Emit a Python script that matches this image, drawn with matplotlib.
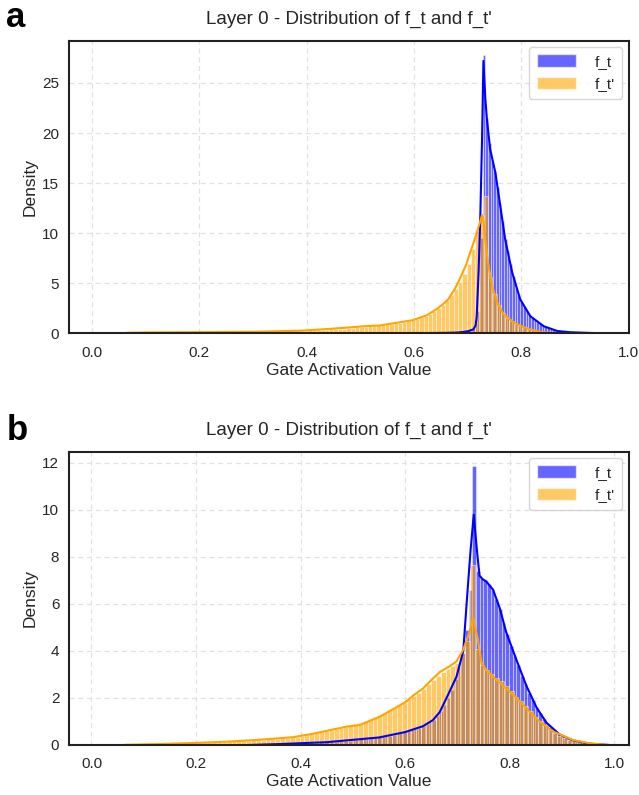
import numpy as np
import matplotlib
matplotlib.use("Agg")
import matplotlib.pyplot as plt
from matplotlib.patches import Patch

plt.rcParams['font.family'] = ['Liberation Sans', 'DejaVu Sans']

title = "Layer 0 - Distribution of f_t and f_t'"
xlabel = "Gate Activation Value"
ylabel = "Density"
labels = ["f_t", "f_t'"]

# ---- panel a : histogram bins (start, width) and bar heights ----
a_ft_bins = (0.448, 0.005)
a_ft_hist = [
    0.01, 0.01, 0.01, 0.01, 0.01, 0.01, 0.01, 0.01, 0.01, 0.01,
    0.01, 0.01, 0.01, 0.01, 0.01, 0.01, 0.01, 0.01, 0.02, 0.02,
    0.02, 0.02, 0.02, 0.02, 0.02, 0.02, 0.02, 0.02, 0.03, 0.03,
    0.03, 0.03, 0.03, 0.03, 0.03, 0.03, 0.03, 0.04, 0.04, 0.04,
    0.04, 0.05, 0.06, 0.07, 0.08, 0.10, 0.12, 0.14, 0.17, 0.21,
    0.27, 0.36, 0.52, 0.90, 2.2, 9.5, 27.83, 21.5, 19.0, 17.2,
    16.2, 14.6, 12.9, 11.2, 9.4, 8.2, 6.9, 5.7, 4.6, 3.8,
    3.1, 2.6, 2.2, 1.8, 1.55, 1.3, 1.1, 0.9, 0.75, 0.62,
    0.5, 0.4, 0.32, 0.25, 0.2, 0.16, 0.13, 0.11, 0.09, 0.07,
    0.06, 0.05, 0.04, 0.03, 0.03, 0.02, 0.02, 0.01, 0.01, 0.01,
]
a_ftp_bins = (0.066, 0.008)
a_ftp_hist = [
    0.05, 0.08, 0.08, 0.09, 0.09, 0.09, 0.10, 0.10, 0.10, 0.10,
    0.10, 0.10, 0.10, 0.11, 0.11, 0.11, 0.11, 0.11, 0.12, 0.12,
    0.12, 0.12, 0.12, 0.13, 0.13, 0.13, 0.14, 0.14, 0.15, 0.15,
    0.16, 0.16, 0.17, 0.18, 0.18, 0.19, 0.20, 0.21, 0.22, 0.23,
    0.25, 0.26, 0.28, 0.30, 0.32, 0.34, 0.36, 0.38, 0.41, 0.44,
    0.47, 0.50, 0.54, 0.58, 0.62, 0.66, 0.70, 0.74, 0.78, 0.82,
    0.88, 0.93, 0.99, 1.05, 1.12, 1.20, 1.30, 1.42, 1.58, 1.75,
    1.95, 2.20, 2.50, 2.85, 3.30, 3.80, 4.40, 5.10, 5.90, 6.90,
    8.40, 10.2, 11.8, 13.66, 5.6, 3.9, 2.8, 2.0, 1.5, 1.2,
    0.95, 0.75, 0.58, 0.45, 0.33, 0.22, 0.14, 0.08, 0.04, 0.02,
]
# kde curves
a_ft_kde_x = [0.45, 0.55, 0.62, 0.66, 0.68, 0.692, 0.702, 0.711, 0.715, 0.717,
              0.7205, 0.7236, 0.727, 0.7295, 0.733, 0.736, 0.742, 0.752, 0.761,
              0.770, 0.783, 0.798, 0.817, 0.842, 0.867, 0.892, 0.93, 0.95]
a_ft_kde_y = [0.0, 0.01, 0.02, 0.04, 0.07, 0.13, 0.22, 0.4, 0.8, 1.7,
              6.1, 11.4, 19.5, 27.2, 23.5, 21.4, 18.4, 16.0, 12.7,
              9.4, 6.1, 3.4, 1.7, 0.7, 0.23, 0.1, 0.03, 0.01]
a_ftp_kde_x = [0.066, 0.1, 0.2, 0.3, 0.387, 0.447, 0.507, 0.537, 0.574, 0.597,
               0.624, 0.642, 0.654, 0.664, 0.677, 0.686, 0.697, 0.705, 0.714,
               0.722, 0.727, 0.730, 0.733, 0.739, 0.746, 0.755, 0.767, 0.786,
               0.811, 0.836, 0.867]
a_ftp_kde_y = [0.05, 0.08, 0.11, 0.15, 0.25, 0.45, 0.7, 0.78, 1.1, 1.3,
               1.8, 2.4, 2.9, 3.4, 4.5, 5.5, 6.8, 8.1, 9.5,
               10.9, 11.83, 11.0, 9.4, 6.7, 4.7, 3.1, 1.9, 1.07,
               0.47, 0.13, 0.02]

# ---- panel b ----
b_ft_bins = (0.3015, 0.007)
b_ft_hist = [
    0.01, 0.01, 0.02, 0.02, 0.02, 0.03, 0.03, 0.03, 0.04, 0.04,
    0.05, 0.05, 0.06, 0.06, 0.07, 0.08, 0.08, 0.09, 0.10, 0.11,
    0.12, 0.12, 0.13, 0.14, 0.15, 0.17, 0.18, 0.19, 0.21, 0.22,
    0.24, 0.25, 0.26, 0.28, 0.30, 0.32, 0.34, 0.37, 0.40, 0.43,
    0.46, 0.50, 0.54, 0.58, 0.62, 0.67, 0.73, 0.80, 0.88, 0.97,
    1.08, 1.25, 1.45, 1.7, 2.0, 2.35, 2.8, 3.3, 3.9, 4.9,
    6.6, 11.87, 7.4, 7.1, 7.0, 6.85, 6.6, 6.2, 5.8, 5.2,
    4.7, 4.2, 3.8, 3.4, 2.95, 2.6, 2.2, 1.9, 1.6, 1.35,
    1.1, 0.9, 0.75, 0.6, 0.47, 0.37, 0.3, 0.23, 0.18, 0.14,
    0.11, 0.08, 0.06, 0.05, 0.04, 0.03, 0.02, 0.02, 0.01, 0.01,
]
b_ftp_bins = (0.0725, 0.0093)
b_ftp_hist = [
    0.02, 0.03, 0.03, 0.04, 0.04, 0.05, 0.05, 0.06, 0.07, 0.07,
    0.08, 0.09, 0.09, 0.10, 0.11, 0.11, 0.12, 0.13, 0.13, 0.14,
    0.15, 0.16, 0.17, 0.18, 0.19, 0.20, 0.21, 0.22, 0.24, 0.25,
    0.27, 0.29, 0.31, 0.33, 0.36, 0.39, 0.42, 0.46, 0.50, 0.54,
    0.58, 0.62, 0.67, 0.72, 0.77, 0.82, 0.88, 0.95, 1.02, 1.1,
    1.18, 1.27, 1.37, 1.47, 1.58, 1.7, 1.82, 1.95, 2.08, 2.22,
    2.4, 2.58, 2.76, 2.95, 3.1, 3.25, 3.35, 3.5, 3.9, 4.4,
    7.66, 4.1, 3.4, 3.2, 3.0, 2.85, 2.7, 2.5, 2.3, 2.05,
    1.85, 1.65, 1.45, 1.2, 1.0, 0.85, 0.68, 0.52, 0.4, 0.3,
    0.23, 0.17, 0.12, 0.08, 0.05, 0.03, 0.02, 0.01, 0.01, 0.0,
]
b_ft_kde_x = [0.30, 0.36, 0.45, 0.49, 0.55, 0.60, 0.634, 0.653, 0.666, 0.679,
              0.698, 0.711, 0.718, 0.725, 0.731, 0.737, 0.742, 0.748, 0.755,
              0.768, 0.781, 0.793, 0.813, 0.832, 0.851, 0.870, 0.895, 0.92,
              0.95, 0.99]
b_ft_kde_y = [0.0, 0.04, 0.12, 0.2, 0.32, 0.55, 0.8, 1.06, 1.4, 2.0,
              2.9, 4.0, 6.2, 8.3, 9.79, 8.3, 7.2, 7.05, 6.95,
              6.6, 5.8, 4.8, 3.6, 2.5, 1.6, 0.95, 0.45, 0.2,
              0.06, 0.0]
b_ftp_kde_x = [0.065, 0.13, 0.2, 0.258, 0.32, 0.385, 0.424, 0.4875, 0.513, 0.551,
               0.583, 0.602, 0.615, 0.634, 0.647, 0.666, 0.685, 0.698, 0.7105,
               0.720, 0.730, 0.739, 0.746, 0.755, 0.774, 0.793, 0.813, 0.832,
               0.857, 0.883, 0.921, 0.953, 0.99]
b_ftp_kde_y = [0.01, 0.04, 0.09, 0.14, 0.22, 0.33, 0.48, 0.78, 0.85, 1.2,
               1.6, 1.85, 2.1, 2.4, 2.7, 3.1, 3.35, 3.55, 4.04,
               4.6, 5.39, 4.47, 3.48, 3.19, 2.77, 2.4, 2.0, 1.55,
               1.0, 0.57, 0.21, 0.07, 0.0]

ft_color = "blue"
ftp_color = "orange"
text_color = "#262626"


def draw_hist(ax, bins, heights, color):
    start, width = bins
    edges = start + width * np.arange(len(heights))
    ax.bar(edges, heights, width=width, align="edge", color=color,
           alpha=0.6, edgecolor="white", linewidth=0.5)


def draw_panel(ax, ft, ftp, xlim, ylim, yticks):
    draw_hist(ax, ft[0], ft[1], ft_color)
    ax.plot(ft[2], ft[3], color=ft_color, linewidth=1.5)
    draw_hist(ax, ftp[0], ftp[1], ftp_color)
    ax.plot(ftp[2], ftp[3], color=ftp_color, linewidth=1.5)

    ax.set_xlim(*xlim)
    ax.set_ylim(*ylim)
    ax.set_xticks([0.0, 0.2, 0.4, 0.6, 0.8, 1.0])
    ax.set_yticks(yticks)
    ax.grid(True, linestyle=(0, (4, 3)), color="#e2e2e2", linewidth=0.9)
    ax.set_axisbelow(True)
    ax.tick_params(length=0, labelsize=11, colors=text_color)
    ax.tick_params(axis="x", pad=9)
    ax.tick_params(axis="y", pad=7)
    for s in ax.spines.values():
        s.set_color("#222222")
        s.set_linewidth(1.5)
    ax.set_title(title, fontsize=13.5, color=text_color, pad=12)
    ax.set_xlabel(xlabel, fontsize=12.5, color=text_color, labelpad=2)
    ax.set_ylabel(ylabel, fontsize=12.5, color=text_color, labelpad=3)
    handles = [Patch(facecolor=ft_color, alpha=0.6, edgecolor="white"),
               Patch(facecolor=ftp_color, alpha=0.6, edgecolor="white")]
    leg = ax.legend(handles, labels, loc="upper right", fontsize=11,
                    frameon=True, fancybox=True, handlelength=2.6,
                    handleheight=0.9, handletextpad=1.2, borderpad=0.5,
                    borderaxespad=0.4)
    leg.get_frame().set_edgecolor("#cccccc")
    leg.get_frame().set_linewidth(1.0)
    for t in leg.get_texts():
        t.set_color(text_color)


fig = plt.figure(figsize=(6.39, 7.95), dpi=100)
ax_a = fig.add_axes([0.108, 0.5808, 0.8756, 0.368])
ax_b = fig.add_axes([0.108, 0.0629, 0.8756, 0.369])

draw_panel(ax_a,
           (a_ft_bins, a_ft_hist, a_ft_kde_x, a_ft_kde_y),
           (a_ftp_bins, a_ftp_hist, a_ftp_kde_x, a_ftp_kde_y),
           (-0.043, 1.0), (0, 29.22), [0, 5, 10, 15, 20, 25])
draw_panel(ax_b,
           (b_ft_bins, b_ft_hist, b_ft_kde_x, b_ft_kde_y),
           (b_ftp_bins, b_ftp_hist, b_ftp_kde_x, b_ftp_kde_y),
           (-0.043, 1.027), (0, 12.47), [0, 2, 4, 6, 8, 10, 12])

fig.text(0.010, 0.966, "a", fontsize=25, fontweight="bold", color="black",
         ha="left", va="baseline")
fig.text(0.010, 0.447, "b", fontsize=25, fontweight="bold", color="black",
         ha="left", va="baseline")

fig.savefig("out.png", dpi=100)
